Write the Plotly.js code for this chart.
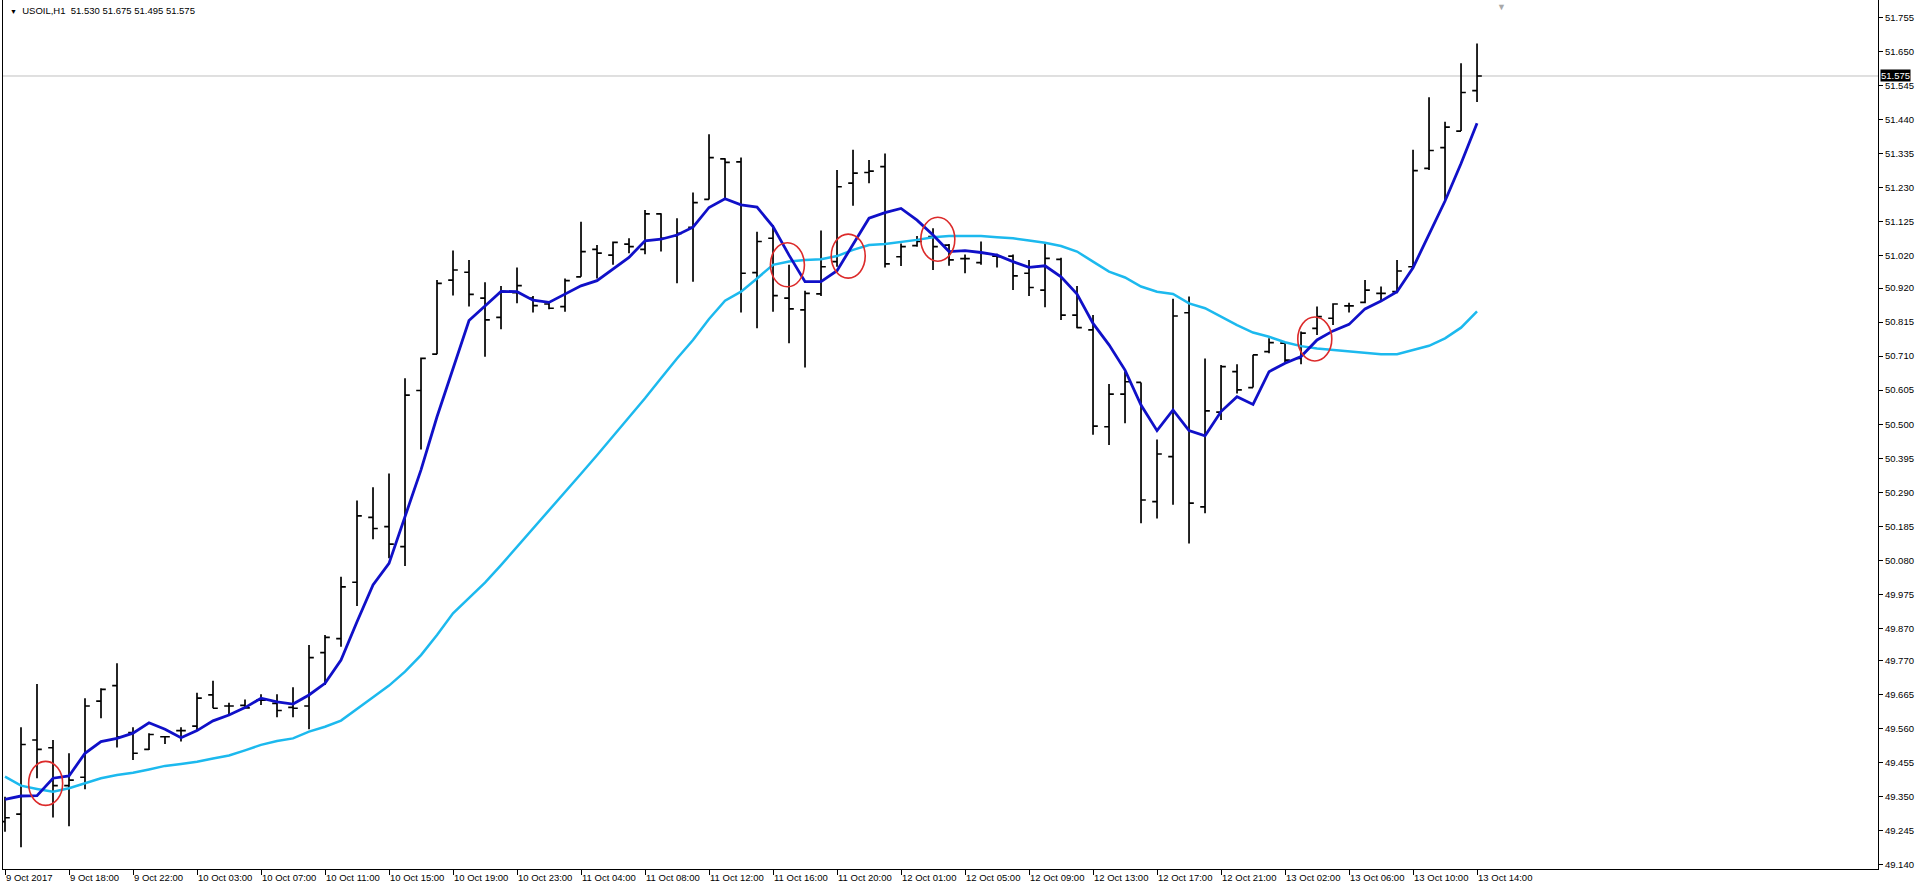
<!DOCTYPE html>
<html><head><meta charset="utf-8">
<script src="https://cdn.plot.ly/plotly-3.0.1.min.js"></script>
<style>html,body{margin:0;padding:0;background:#fff;overflow:hidden}#chart{width:1915px;height:887px}</style>
</head><body><div id="chart"></div>
<script>
const symbolName = "USOIL,H1";

const openP = [49.273,49.296,49.525,49.501,49.384,49.410,49.645,49.693,49.548,49.496,49.535,49.554,49.568,49.664,49.630,49.632,
49.648,49.638,49.626,49.630,49.795,49.838,50.012,50.212,50.184,50.122,50.604,50.716,50.945,50.969,50.889,50.830,
50.906,50.889,50.871,50.863,50.955,51.040,51.022,51.056,51.040,51.149,51.081,51.108,51.194,51.319,51.310,50.968,
51.074,50.889,50.853,50.902,51.002,51.244,51.277,51.295,51.017,51.051,51.079,51.053,51.011,50.999,51.019,51.019,
50.966,50.914,51.009,50.837,50.791,50.492,50.593,50.629,50.261,50.400,50.844,50.245,50.537,50.662,50.613,50.724,
50.750,50.703,50.796,50.827,50.865,50.876,50.904,50.909,50.986,51.290,51.354,51.405,51.530];

const highP = [49.350,49.564,49.698,49.525,49.484,49.654,49.685,49.762,49.564,49.546,49.537,49.564,49.671,49.708,49.640,49.650,
49.666,49.666,49.688,49.818,49.849,50.029,50.264,50.305,50.348,50.642,50.706,50.945,51.036,51.007,50.938,50.927,
50.984,50.896,50.878,50.950,51.125,51.053,51.064,51.074,51.161,51.151,51.136,51.215,51.395,51.321,51.323,51.094,
51.115,50.992,50.912,51.098,51.285,51.347,51.316,51.336,51.058,51.081,51.105,51.056,51.024,51.064,51.026,51.024,
51.007,51.056,51.014,50.927,50.837,50.624,50.662,50.629,50.453,50.887,50.894,50.703,50.683,50.685,50.714,50.765,
50.750,50.786,50.863,50.873,50.875,50.945,50.925,51.007,51.347,51.509,51.434,51.614,51.675];

const lowP = [49.242,49.194,49.407,49.286,49.259,49.373,49.592,49.502,49.463,49.494,49.513,49.520,49.556,49.623,49.602,49.622,
49.633,49.595,49.595,49.558,49.695,49.813,49.939,50.145,50.086,50.062,50.422,50.716,50.897,50.863,50.708,50.793,
50.873,50.845,50.855,50.847,50.955,50.950,50.992,51.028,51.025,51.033,50.935,50.940,51.194,51.197,50.845,50.796,
50.847,50.750,50.675,50.896,50.986,51.174,51.244,50.984,50.988,51.048,50.976,50.989,50.966,50.992,50.984,50.914,
50.896,50.861,50.822,50.796,50.467,50.436,50.503,50.194,50.209,50.251,50.132,50.225,50.513,50.595,50.613,50.719,
50.691,50.685,50.775,50.806,50.845,50.873,50.883,50.904,50.981,51.285,51.192,51.405,51.495];

const closeP = [49.285,49.511,49.496,49.384,49.401,49.630,49.681,49.535,49.484,49.542,49.535,49.554,49.654,49.623,49.630,49.624,
49.648,49.616,49.623,49.779,49.842,49.998,50.217,50.178,50.130,50.590,50.703,50.935,50.976,50.901,50.822,50.909,
50.928,50.866,50.858,50.943,51.033,51.028,51.061,51.048,51.149,51.074,51.089,51.184,51.323,51.308,50.966,51.064,
50.897,50.856,50.904,50.986,51.233,51.275,51.281,50.995,51.048,51.064,51.048,51.007,51.011,51.028,51.017,50.958,
50.922,51.012,50.837,50.798,50.494,50.593,50.631,50.266,50.408,50.834,50.256,50.541,50.678,50.606,50.714,50.752,
50.698,50.781,50.832,50.871,50.865,50.914,50.904,50.973,51.283,51.345,51.417,51.524,51.575];

const fastMA = [49.342,49.352,49.353,49.407,49.414,49.484,49.520,49.530,49.546,49.578,49.558,49.532,49.554,49.584,49.602,49.625,
49.654,49.643,49.636,49.664,49.700,49.772,49.890,50.004,50.070,50.214,50.359,50.523,50.672,50.820,50.865,50.910,
50.909,50.883,50.876,50.902,50.927,50.943,50.978,51.015,51.066,51.071,51.084,51.108,51.169,51.196,51.177,51.170,
51.110,51.022,50.940,50.940,50.974,51.053,51.136,51.153,51.166,51.130,51.084,51.033,51.036,51.030,51.022,51.002,
50.984,50.989,50.955,50.902,50.811,50.745,50.667,50.559,50.480,50.544,50.480,50.464,50.539,50.585,50.561,50.662,
50.688,50.709,50.760,50.788,50.808,50.856,50.880,50.909,50.983,51.086,51.189,51.305,51.429];

const slowMA = [49.412,49.384,49.374,49.365,49.376,49.391,49.407,49.417,49.424,49.434,49.445,49.451,49.458,49.468,49.477,49.493,
49.510,49.522,49.530,49.551,49.566,49.585,49.620,49.657,49.693,49.736,49.787,49.849,49.916,49.962,50.011,50.065,
50.121,50.176,50.232,50.290,50.347,50.404,50.462,50.520,50.580,50.642,50.703,50.760,50.825,50.881,50.909,50.950,
50.992,51.002,51.007,51.009,51.019,51.038,51.053,51.056,51.062,51.069,51.077,51.081,51.081,51.081,51.077,51.074,
51.067,51.060,51.050,51.033,51.002,50.971,50.953,50.925,50.909,50.902,50.873,50.858,50.832,50.806,50.783,50.770,
50.753,50.741,50.734,50.729,50.724,50.719,50.716,50.716,50.729,50.742,50.765,50.798,50.848];

const xTickLabels = ["9 Oct 2017","9 Oct 18:00","9 Oct 22:00","10 Oct 03:00","10 Oct 07:00","10 Oct 11:00","10 Oct 15:00","10 Oct 19:00","10 Oct 23:00","11 Oct 04:00","11 Oct 08:00","11 Oct 12:00","11 Oct 16:00","11 Oct 20:00","12 Oct 01:00","12 Oct 05:00","12 Oct 09:00","12 Oct 13:00","12 Oct 17:00","12 Oct 21:00","13 Oct 02:00","13 Oct 06:00","13 Oct 10:00","13 Oct 14:00"];
const xTickBars = [0,4,8,12,16,20,24,28,32,36,40,44,48,52,56,60,64,68,72,76,80,84,88,92];

const yTickLabels = ["51.755","51.650","51.545","51.440","51.335","51.230","51.125","51.020","50.920","50.815","50.710","50.605","50.500","50.395","50.290","50.185","50.080","49.975","49.870","49.770","49.665","49.560","49.455","49.350","49.245","49.140"];

const crossBar = [2.54, 48.9, 52.7, 58.3, 81.86];
const crossPrice = [49.391, 50.992, 51.019, 51.071, 50.763];

const FONT = "Liberation Sans, Arial, sans-serif";
const idx = closeP.map((_, i) => i);
const last = closeP.length - 1;

const traces = [
  {type:'ohlc', x:idx, open:openP, high:highP, low:lowP, close:closeP,
   increasing:{line:{color:'#000000', width:1.7}}, decreasing:{line:{color:'#000000', width:1.7}},
   tickwidth:0.3, hoverinfo:'skip', showlegend:false},
  {type:'scatter', mode:'lines', x:idx, y:slowMA, line:{color:'#1CB9EE', width:2.5}, hoverinfo:'skip', showlegend:false},
  {type:'scatter', mode:'lines', x:idx, y:fastMA, line:{color:'#1010C8', width:2.8}, hoverinfo:'skip', showlegend:false}
];

const shapes = [
  {type:'line', xref:'paper', x0:0, x1:1, yref:'y', y0:closeP[last], y1:closeP[last], line:{color:'#C0C0C0', width:1}, layer:'below'}
];
crossBar.forEach((b, i) => {
  shapes.push({type:'circle', xref:'x', yref:'y', xsizemode:'pixel', ysizemode:'pixel',
    xanchor:b, yanchor:crossPrice[i], x0:-17, x1:17, y0:-22, y1:22,
    line:{color:'#DC2A2A', width:1.6}});
});

const header = "<span style='font-size:7px'>▼</span>  " + symbolName + "  " +
  [openP[last], highP[last], lowP[last], closeP[last]].map(v => v.toFixed(3)).join(" ");

const annotations = [
  {xref:'paper', yref:'paper', x:0.0027, y:1, xanchor:'left', yanchor:'top', yshift:-3, showarrow:false,
   text:header, font:{family:FONT, size:9.5, color:'#000'}},
  {xref:'paper', yref:'y', x:1, y:closeP[last], xanchor:'left', yanchor:'middle', xshift:2, showarrow:false,
   text:closeP[last].toFixed(3), bgcolor:'#000000', borderpad:0, font:{family:FONT, size:9.5, color:'#ffffff'}},
  {xref:'paper', yref:'paper', x:0.799, y:1, xanchor:'center', yanchor:'top', showarrow:false,
   text:'▼', font:{family:FONT, size:9, color:'#A8A8A8'}}
];

const layout = {
  width:1915, height:887,
  margin:{l:3, r:37, t:0, b:18},
  paper_bgcolor:'#ffffff', plot_bgcolor:'#ffffff',
  showlegend:false,
  xaxis:{type:'linear', range:[-0.125, 117.06], tickvals:xTickBars, ticktext:xTickLabels,
    ticks:'outside', ticklen:5, tickcolor:'#000', tickwidth:1, ticklabelposition:'outside right',
    showline:true, linecolor:'#000', linewidth:1, showgrid:false, zeroline:false,
    tickfont:{family:FONT, size:9.5, color:'#000'}, rangeslider:{visible:false}, fixedrange:true},
  yaxis:{side:'right', range:[49.1267, 51.8096], tickvals:yTickLabels.map(Number), ticktext:yTickLabels,
    ticks:'outside', ticklen:4, tickcolor:'#000', tickwidth:1, showline:true, mirror:true,
    linecolor:'#000', linewidth:1, showgrid:false, zeroline:false,
    tickfont:{family:FONT, size:9.5, color:'#000'}, fixedrange:true},
  shapes:shapes, annotations:annotations
};

Plotly.newPlot('chart', traces, layout, {displayModeBar:false, staticPlot:true});
</script></body></html>
